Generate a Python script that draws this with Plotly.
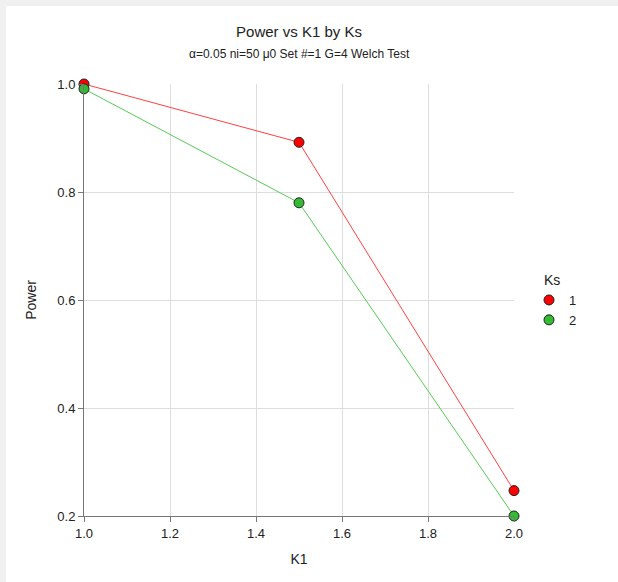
import plotly.graph_objects as go

k1 = [1.0, 1.5, 2.0]
power_ks1 = [1.0, 0.892, 0.247]
power_ks2 = [0.991, 0.780, 0.200]
ks_labels = ["1", "2"]

W, H = 618, 582
L, R, T, B = 84, 104, 84, 66
pw, ph = W - L - R, H - T - B

series = [
    (power_ks1, ks_labels[0], "#ff4040", "#ff0000"),
    (power_ks2, ks_labels[1], "#55cc55", "#33bb33"),
]

fig = go.Figure()
for ys, name, lc, mc in series:
    fig.add_trace(go.Scatter(x=k1, y=ys, mode="lines", showlegend=False,
                             line=dict(color=lc, width=1), hoverinfo="skip"))
for ys, name, lc, mc in series:
    fig.add_trace(go.Scatter(x=k1, y=ys, mode="markers", name=name,
                             marker=dict(color=mc, size=10, line=dict(color="#222222", width=1)),
                             cliponaxis=False))

def px2x(p):
    return (p - L) / pw

def py2y(p):
    return (H - B - p) / ph

fig.add_shape(type="rect", xref="paper", yref="paper", x0=px2x(0), x1=px2x(W), y0=py2y(6), y1=py2y(0),
              fillcolor="#f0f0f0", line=dict(width=0), layer="below")
fig.add_shape(type="rect", xref="paper", yref="paper", x0=px2x(0), x1=px2x(6), y0=py2y(H), y1=py2y(0),
              fillcolor="#f0f0f0", line=dict(width=0), layer="below")

fig.add_annotation(text="α=0.05 ni=50 μ0 Set #=1 G=4 Welch Test", xref="paper", yref="paper",
                   x=0.5, y=py2y(54), xanchor="center", yanchor="middle", showarrow=False,
                   font=dict(size=12, color="#222222"))
fig.add_annotation(text="Ks", xref="paper", yref="paper",
                   x=px2x(552), y=py2y(280), xanchor="center", yanchor="middle", showarrow=False,
                   font=dict(size=14, color="#222222"))

fig.update_layout(
    width=W, height=H,
    margin=dict(l=L, r=R, t=T, b=B),
    paper_bgcolor="white", plot_bgcolor="white",
    font=dict(family="Liberation Sans, Arial", size=12, color="#222222"),
    title=dict(text="Power vs K1 by Ks", x=0.5, xref="paper", y=1 - 32 / H, yanchor="middle",
               font=dict(size=15)),
    xaxis=dict(title=dict(text="K1", font=dict(size=14), standoff=14), range=[1.0, 2.0], dtick=0.2,
               tickformat=".1f", showgrid=True, gridcolor="#dddddd", showline=True, linecolor="#777777",
               ticks="outside", ticklen=5, tickcolor="#777777", zeroline=False,
               tickfont=dict(size=13)),
    yaxis=dict(title=dict(text="Power", font=dict(size=14), standoff=17), range=[0.2, 1.0], dtick=0.2,
               tickformat=".1f", showgrid=True, gridcolor="#dddddd", showline=True, linecolor="#777777",
               ticks="outside", ticklen=5, tickcolor="#777777", zeroline=False,
               tickfont=dict(size=13)),
    legend=dict(x=px2x(529), xanchor="left", y=py2y(285), yanchor="top",
                font=dict(size=13), bgcolor="rgba(0,0,0,0)", itemwidth=30, tracegroupgap=0),
    showlegend=True,
)

fig.write_html("out.html", config={"displayModeBar": False},
               post_script="document.body.style.margin='0';document.body.style.padding='0';")
